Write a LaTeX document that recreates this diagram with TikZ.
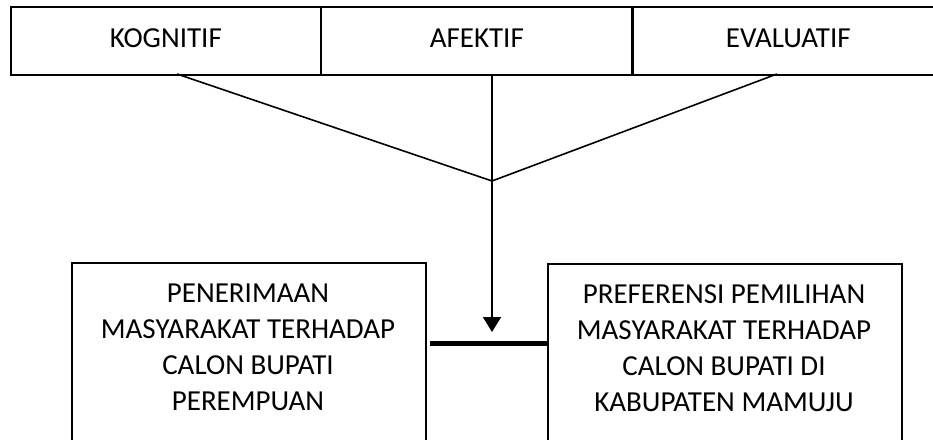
\documentclass[tikz,border=0pt]{standalone}
\usepackage{fontspec}
\setmainfont{Carlito}
\usetikzlibrary{arrows.meta}
\begin{document}
\begin{tikzpicture}[x=1pt,y=-1pt,
  topbox/.style={draw=black, line width=1.6pt, minimum height=68pt, inner sep=0pt, text height=18pt, text depth=4pt, font=\fontsize{29}{36}\selectfont, anchor=north west},
  lowbox/.style={draw=black, line width=1.6pt, inner sep=0pt, anchor=north west},
  lowtext/.style={inner sep=0pt, align=center, anchor=north, font=\fontsize{29}{36}\selectfont},
  conn/.style={line width=1.6pt, draw=black},
  boldline/.style={line width=5pt, draw=black}]
\useasboundingbox (0,0) rectangle (933,439);
\clip (0,0) rectangle (933,439);
% top row
\node[topbox, minimum width=310pt] (kog) at (10,6) {KOGNITIF};
\node[topbox, minimum width=312pt] (afe) at (320,6) {AFEKTIF};
\node[topbox, minimum width=311pt] (eva) at (632,6) {EVALUATIF};
\draw[line width=3pt] (eva.north west) -- (eva.south west);
% lower boxes
\node[lowbox, minimum width=354pt, minimum height=200pt] (pen) at (71,262) {};
\node[lowbox, minimum width=354pt, minimum height=200pt] (pre) at (547,263) {};
\node[lowtext] (pent) at (248,284) {PENERIMAAN\\MASYARAKAT TERHADAP\\CALON BUPATI\\PEREMPUAN};
\node[lowtext] (pret) at (724,284) {PREFERENSI PEMILIHAN\\MASYARAKAT TERHADAP\\CALON BUPATI DI\\KABUPATEN MAMUJU};
% connectors
\coordinate (J) at (492,181);
\coordinate (kogout) at (177,74);
\coordinate (evaout) at (777,74);
\coordinate (afeout) at (492,74);
\coordinate (tip) at (492,332);
\draw[conn] (kogout) -- (J);
\draw[conn] (evaout) -- (J);
\draw[conn, -{Triangle[width=18pt,length=15pt]}] (afeout) -- (tip);
\coordinate (bl) at (430,343);
\draw[boldline] (bl) -- (pre.west |- bl);
\end{tikzpicture}
\end{document}
